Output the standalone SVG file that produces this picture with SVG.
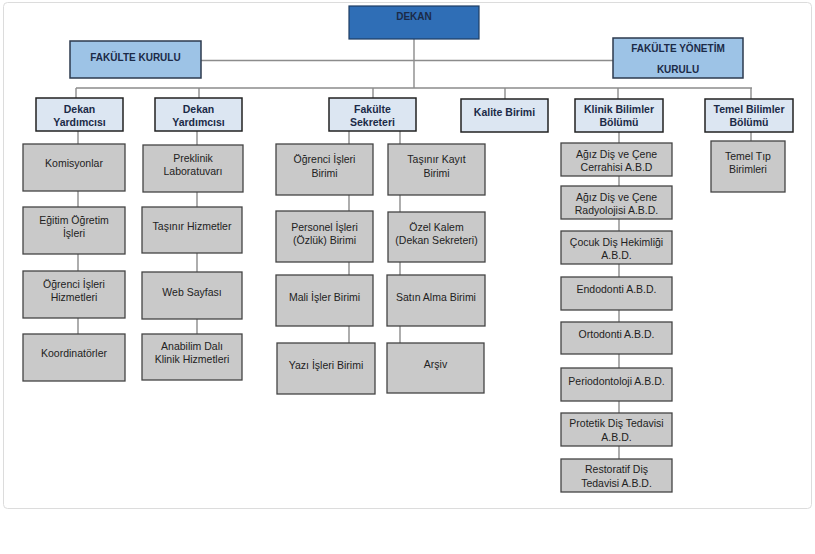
<svg xmlns="http://www.w3.org/2000/svg" width="815" height="554" viewBox="0 0 815 554">
<style>
.frame{fill:#fff;stroke:#dcdcdc;stroke-width:1}
.top{fill:#2f6eb6;stroke:#1e3d63;stroke-width:1.2}
.kur{fill:#9dc3e6;stroke:#2c3a4e;stroke-width:1.5}
.l2{fill:#dce6f2;stroke:#222;stroke-width:1.5}
.g{fill:#c9c9c9;stroke:#444;stroke-width:1.3}
.ln{fill:none;stroke:#8c8c8c;stroke-width:1.4}
.tb{font-family:"Liberation Sans",Arial,sans-serif;font-weight:bold;font-size:10.5px;fill:#1b2a47;text-anchor:middle}
.tk{font-family:"Liberation Sans",Arial,sans-serif;font-weight:bold;font-size:10px;fill:#1b2a47;text-anchor:middle}
.t{font-family:"Liberation Sans",Arial,sans-serif;font-size:10.5px;fill:#222;text-anchor:middle}
</style>
<rect class="frame" x="3.5" y="2.5" width="808" height="506" rx="4"/>
<g id="connectors">
<path class="ln" d="M414 39V88M201 60.5H613M76 88H752M76 88V98M199 88V98M373 88V98M505 88V99M618 88V99M751 88V99"/>
<path class="ln" d="M78 131V334M197 131V334M349 131V343M400 131V343M619 132V459M751 132V141"/>
</g>
<g id="dekan"><rect class="top" x="349" y="6" width="130" height="33"/><text class="tk" x="414" y="20">DEKAN</text></g>
<g id="fakulte-kurulu"><rect class="kur" x="70" y="41" width="131" height="37"/><text class="tk" x="135.5" y="61">FAKÜLTE KURULU</text></g>
<g id="fakulte-yonetim-kurulu"><rect class="kur" x="613" y="38" width="130" height="40"/><text class="tk" x="678" y="52">FAKÜLTE YÖNETİM</text><text class="tk" x="678" y="73">KURULU</text></g>

<g id="dekan-yardimcisi-1"><rect class="l2" x="36" y="98" width="87" height="33"/><text class="tb" x="79.5" y="113">Dekan</text><text class="tb" x="79.5" y="126">Yardımcısı</text></g>
<g id="dekan-yardimcisi-2"><rect class="l2" x="155" y="98" width="87" height="33"/><text class="tb" x="198.5" y="113">Dekan</text><text class="tb" x="198.5" y="126">Yardımcısı</text></g>
<g id="fakulte-sekreteri"><rect class="l2" x="329" y="98" width="87" height="33"/><text class="tb" x="372.5" y="113">Fakülte</text><text class="tb" x="372.5" y="126">Sekreteri</text></g>
<g id="kalite-birimi"><rect class="l2" x="461" y="99" width="87" height="33"/><text class="tb" x="504.5" y="116">Kalite Birimi</text></g>
<g id="klinik-bilimler"><rect class="l2" x="575" y="99" width="88" height="33"/><text class="tb" x="619" y="113">Klinik Bilimler</text><text class="tb" x="619" y="126">Bölümü</text></g>
<g id="temel-bilimler"><rect class="l2" x="705" y="99" width="88" height="33"/><text class="tb" x="749" y="113">Temel Bilimler</text><text class="tb" x="749" y="126">Bölümü</text></g>

<g id="komisyonlar"><rect class="g" x="23" y="144" width="102" height="47"/><text class="t" x="74" y="167">Komisyonlar</text></g>
<g id="egitim-ogretim"><rect class="g" x="23" y="207" width="102" height="47"/><text class="t" x="74" y="224">Eğitim Öğretim</text><text class="t" x="74" y="237">İşleri</text></g>
<g id="ogrenci-isleri-hizmetleri"><rect class="g" x="23" y="271" width="102" height="47"/><text class="t" x="74" y="288">Öğrenci İşleri</text><text class="t" x="74" y="301">Hizmetleri</text></g>
<g id="koordinatorler"><rect class="g" x="23" y="334" width="102" height="47"/><text class="t" x="74" y="357">Koordinatörler</text></g>

<g id="preklinik"><rect class="g" x="143" y="145" width="100" height="47"/><text class="t" x="193" y="162">Preklinik</text><text class="t" x="193" y="175">Laboratuvarı</text></g>
<g id="tasinir-hizmetler"><rect class="g" x="142" y="207" width="100" height="46"/><text class="t" x="192" y="230">Taşınır Hizmetler</text></g>
<g id="web-sayfasi"><rect class="g" x="142" y="272" width="100" height="47"/><text class="t" x="192" y="296">Web Sayfası</text></g>
<g id="anabilim-dali"><rect class="g" x="142" y="334" width="100" height="46"/><text class="t" x="192" y="350">Anabilim Dalı</text><text class="t" x="192" y="363">Klinik Hizmetleri</text></g>

<g id="ogrenci-isleri-birimi"><rect class="g" x="276" y="144" width="97" height="51"/><text class="t" x="324.5" y="163">Öğrenci İşleri</text><text class="t" x="324.5" y="177">Birimi</text></g>
<g id="personel-isleri"><rect class="g" x="276" y="211" width="97" height="51"/><text class="t" x="324.5" y="231">Personel İşleri</text><text class="t" x="324.5" y="244">(Özlük) Birimi</text></g>
<g id="mali-isler"><rect class="g" x="276" y="275" width="97" height="51"/><text class="t" x="324.5" y="301">Mali İşler Birimi</text></g>
<g id="yazi-isleri"><rect class="g" x="277" y="343" width="98" height="51"/><text class="t" x="326" y="369">Yazı İşleri Birimi</text></g>

<g id="tasinir-kayit"><rect class="g" x="388" y="144" width="97" height="51"/><text class="t" x="436.5" y="163">Taşınır Kayıt</text><text class="t" x="436.5" y="177">Birimi</text></g>
<g id="ozel-kalem"><rect class="g" x="388" y="212" width="97" height="50"/><text class="t" x="436.5" y="231">Özel Kalem</text><text class="t" x="436.5" y="244">(Dekan Sekreteri)</text></g>
<g id="satin-alma"><rect class="g" x="387" y="275" width="98" height="51"/><text class="t" x="436" y="301">Satın Alma Birimi</text></g>
<g id="arsiv"><rect class="g" x="387" y="343" width="97" height="50"/><text class="t" x="435.5" y="368">Arşiv</text></g>

<g id="cerrahi"><rect class="g" x="561" y="143" width="111" height="33"/><text class="t" x="616.5" y="158">Ağız Diş ve Çene</text><text class="t" x="616.5" y="171">Cerrahisi A.B.D</text></g>
<g id="radyoloji"><rect class="g" x="561" y="186" width="111" height="33"/><text class="t" x="616.5" y="201">Ağız Diş ve Çene</text><text class="t" x="616.5" y="214">Radyolojisi A.B.D.</text></g>
<g id="cocuk"><rect class="g" x="561" y="231" width="111" height="33"/><text class="t" x="616.5" y="246">Çocuk Diş Hekimliği</text><text class="t" x="616.5" y="259">A.B.D.</text></g>
<g id="endodonti"><rect class="g" x="561" y="277" width="111" height="33"/><text class="t" x="616.5" y="293">Endodonti A.B.D.</text></g>
<g id="ortodonti"><rect class="g" x="561" y="322" width="111" height="32"/><text class="t" x="616.5" y="338">Ortodonti A.B.D.</text></g>
<g id="periodontoloji"><rect class="g" x="561" y="368" width="111" height="33"/><text class="t" x="616.5" y="385">Periodontoloji A.B.D.</text></g>
<g id="protetik"><rect class="g" x="561" y="413" width="111" height="33"/><text class="t" x="616.5" y="427">Protetik Diş Tedavisi</text><text class="t" x="616.5" y="441">A.B.D.</text></g>
<g id="restoratif"><rect class="g" x="561" y="459" width="111" height="33"/><text class="t" x="616.5" y="473">Restoratif Diş</text><text class="t" x="616.5" y="487">Tedavisi A.B.D.</text></g>

<g id="temel-tip"><rect class="g" x="711" y="141" width="74" height="51"/><text class="t" x="748" y="160">Temel Tıp</text><text class="t" x="748" y="173">Birimleri</text></g>
</svg>
